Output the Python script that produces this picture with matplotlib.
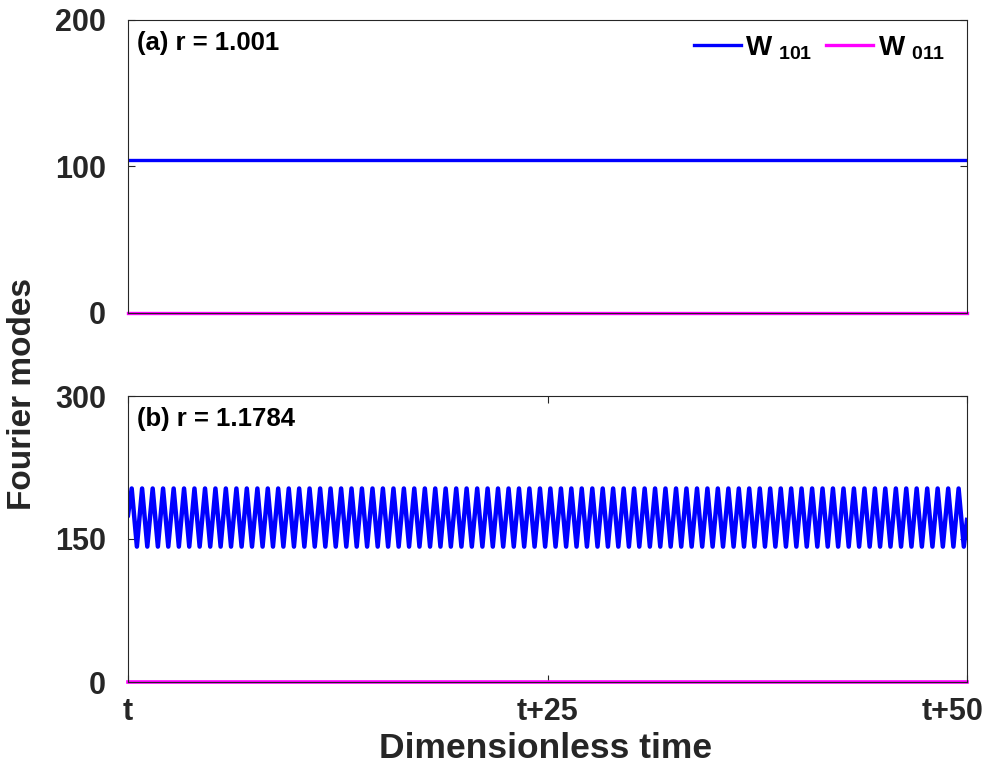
import numpy as np
import matplotlib
matplotlib.use('Agg')
import matplotlib.pyplot as plt
import matplotlib.transforms as mtransforms
from matplotlib import font_manager

# data
t_span = [0, 50]
w101_a = 104.5          # panel (a), steady value
w011_a = 0.0
w011_b = 0.0
w101_b_start = 175      # panel (b) value at t
w101_b_end = 170        # panel (b) value at t+50
w101_b_peak = 203
w101_b_trough = 142
peak_times = [0.22, 0.84, 1.47, 2.09, 2.72, 3.34, 3.96, 4.59, 5.21, 5.83,
              6.46, 7.08, 7.71, 8.33, 8.95, 9.58, 10.20, 10.82, 11.45, 12.07,
              12.70, 13.32, 13.94, 14.57, 15.19, 15.82, 16.44, 17.06, 17.69, 18.31,
              18.93, 19.56, 20.18, 20.81, 21.43, 22.05, 22.68, 23.30, 23.92, 24.55,
              25.17, 25.80, 26.42, 27.04, 27.67, 28.29, 28.91, 29.54, 30.16, 30.79,
              31.41, 32.03, 32.66, 33.28, 33.91, 34.53, 35.15, 35.78, 36.40, 37.02,
              37.65, 38.27, 38.90, 39.52, 40.14, 40.77, 41.39, 42.01, 42.64, 43.26,
              43.89, 44.51, 45.13, 45.76, 46.38, 47.00, 47.63, 48.25, 48.88, 49.50]
half_period = 0.31
xtick_pos = [0, 25, 50]
xtick_labels = ['t', 't+25', 't+50']

names = {f.name for f in font_manager.fontManager.ttflist}
fam = 'Liberation Sans' if 'Liberation Sans' in names else 'DejaVu Sans'
plt.rcParams['font.family'] = fam
plt.rcParams['font.weight'] = 'bold'
plt.rcParams['mathtext.fontset'] = 'custom'
plt.rcParams['mathtext.bf'] = fam + ':bold'
plt.rcParams['mathtext.rm'] = fam + ':bold'

# panel (b) series through extrema
tb = [t_span[0]]
wb = [w101_b_start]
for tp in peak_times:
    tb += [tp, tp + half_period]
    wb += [w101_b_peak, w101_b_trough]
tb[-1] = min(tb[-1], t_span[1] - 0.05)
tb.append(t_span[1])
wb.append(w101_b_end)

fig = plt.figure(figsize=(9.91, 7.65), dpi=100)
ax1 = fig.add_axes([128/991, 1 - 313/765, 839/991, 293/765])
ax2 = fig.add_axes([128/991, 1 - 682/765, 839/991, 286/765])

ax1.plot(t_span, [w101_a, w101_a], color='#0000ff', lw=2.4, label=r'$\mathbf{W}_{\ \mathbf{101}}$')
ax1.plot(t_span, [w011_a, w011_a], color='#ff00ff', lw=2.4, label=r'$\mathbf{W}_{\ \mathbf{011}}$', clip_on=False)
ax2.plot(tb, wb, color='#0000ff', lw=3.2, solid_joinstyle='round')
ax2.plot(t_span, [w011_b, w011_b], color='#ff00ff', lw=2.6, clip_on=False)

for ax in (ax1, ax2):
    ax.set_xlim(t_span)
    ax.tick_params(direction='in', length=5, width=0.8, top=True, right=True,
                   labelsize=22, colors='#262626')
    ax.tick_params(axis='y', pad=16)
    ax.tick_params(axis='x', pad=11)
    for s in ax.spines.values():
        s.set_color('#262626')
        s.set_linewidth(0.8)
    ax.set_xticks(xtick_pos)

ax1.set_ylim(0, 200)
ax1.set_yticks([0, 100, 200])
ax1.set_xticklabels([])
ax1.tick_params(axis='x', length=0)
ax2.set_ylim(0, 300)
ax2.set_yticks([0, 150, 300])
ax2.set_xticklabels(xtick_labels)
last = ax2.get_xticklabels()[-1]
last.set_transform(last.get_transform() + mtransforms.ScaledTranslation(-14/100, 0, fig.dpi_scale_trans))

off = mtransforms.ScaledTranslation(9/100, -11/100, fig.dpi_scale_trans)
ax1.text(0, 1, '(a) r = 1.001', transform=ax1.transAxes + off, ha='left', va='top',
         fontsize=18.5, fontweight='bold')
ax2.text(0, 1, '(b) r = 1.1784', transform=ax2.transAxes + off, ha='left', va='top',
         fontsize=18.5, fontweight='bold')

ax1.legend(loc='upper right', ncol=2, frameon=False, fontsize=20, handlelength=1.7,
           handletextpad=0.15, columnspacing=0.5, borderaxespad=0.1,
           bbox_to_anchor=(0.99, 1.0))

fig.text(23/991, 1 - 394/765, 'Fourier modes', rotation=90, ha='center', va='center',
         fontsize=24, fontweight='bold', color='#262626')
fig.text(546/991, 1 - 758/765, 'Dimensionless time', ha='center', va='baseline',
         fontsize=25.5, fontweight='bold', color='#262626')

fig.savefig('out.png', dpi=100)
